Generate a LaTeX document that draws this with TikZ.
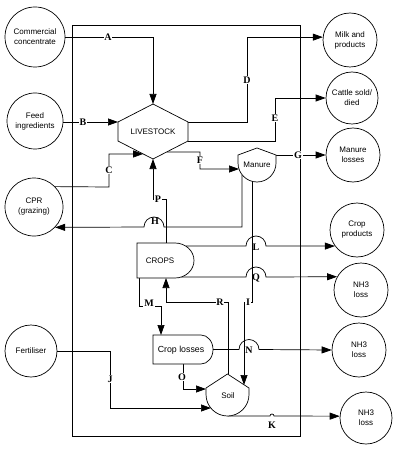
\documentclass[tikz,border=0pt]{standalone}
\usepackage{fontspec}
\setmainfont{Liberation Serif}
\setsansfont{Liberation Sans}
\usetikzlibrary{arrows.meta,calc}
\begin{document}
\begin{tikzpicture}[x=1pt,y=1pt,line width=0.7pt,
  circ/.style={draw, circle, inner sep=0pt, minimum size=#1, align=center, font=\sffamily\fontsize{8}{10}\selectfont},
  txt/.style={align=center, inner sep=0pt, font=\sffamily\fontsize{8}{10}\selectfont},
  lbl/.style={fill=white, inner sep=0.8pt, font=\bfseries\fontsize{10}{10}\selectfont},
  lbln/.style={inner sep=0.8pt, font=\bfseries\fontsize{10}{10}\selectfont},
  arr/.style={-{Triangle[length=10pt,width=7pt]}},
  shp/.style={draw, fill=white}
]
\useasboundingbox (0,0) rectangle (400,-449);

% system boundary
\draw (72,-25) rectangle (300,-436);

% outside circles
\node[circ=60pt] (cc) at (35,-37) {Commercial\\concentrate};
\node[circ=56pt] (feed) at (35,-121) {Feed\\ingredients};
\node[circ=58pt] (cpr) at (34,-207) {CPR\\(grazing)};
\node[circ=52pt] (fert) at (31,-351) {Fertiliser};
\node[circ=54pt] (milk) at (350,-40) {Milk and\\products};
\node[circ=52pt] (cattle) at (352,-98) {Cattle sold/\\died};
\node[circ=54pt] (mloss) at (353,-155) {Manure\\losses};
\node[circ=54pt] (cprod) at (357,-230) {Crop\\products};
\node[circ=54pt] (nh3a) at (361,-290) {NH3\\loss};
\node[circ=54pt] (nh3b) at (359,-350) {NH3\\loss};
\node[circ=52pt] (nh3c) at (366,-418) {NH3\\loss};

% livestock hexagon corners
\coordinate (hT) at (153,-104);
\coordinate (hUR) at (188,-122);
\coordinate (hLR) at (188,-141);
\coordinate (hB) at (153,-159);
\coordinate (hLL) at (118,-141);
\coordinate (hUL) at (118,-122);
\coordinate (hC) at ($(hLL)!0.72!(hB)$);
\coordinate (hF) at ($(hLR)!0.61!(hB)$);

% bend points
\coordinate (cC1) at (109,-187);
\coordinate (mW) at (239,-169);
\coordinate (mR) at (276,-155);

% connectors
\draw[arr] (cc.east) -| (hT);
\draw[arr] (feed.east |- hUL) -- (hUL);
\draw[arr] (cpr.44) -- (cC1) |- (hC);
\draw[arr] (hUR) -- (247,-122) |- (milk.174);
\draw[arr] (hLR) -- (275,-141) |- (cattle.west);
\draw[arr] (hF) -- (200,-152) -- (200,-169) -- (mW);
\draw[arr] (mR) -- (mloss.west);
\draw[arr] (242,-175) -- (242,-227) -- (164,-227) arc(0:180:10) -- (cpr.-44);
\draw[arr] (166,-243) -- (166,-199) -- (153,-199) -- (hB);
\draw[arr] (252,-181) -- (252,-302) -- (244,-302) -- (244,-385);
\draw[arr] (228,-374) -- (228,-302) -- (166,-302) -- (166,-278);
\draw[arr] (139,-278) -- (139,-306) -- (161,-306) -- (161,-335);
\draw[arr] (183,-364) -- (183,-389) -- (206,-389);
\draw[arr] (fert.east) -- (110,-351) -- (110,-408) -- (211,-408);
\draw[arr] (227.5,-416) -- (270,-416) arc(180:0:2) -- (nh3c.176);
\draw[arr] (186,-246) -- (246,-246) arc(180:0:10) -- (cprod.216);
\draw[arr] (181,-277) -- (246,-277) arc(180:0:10) -- (nh3a.151);
\draw[arr] (213,-349.5) -- (239,-349.5) arc(180:0:10) -- (nh3b.west);

% shapes
\draw[shp] (hT) -- (hUR) -- (hLR) -- (hB) -- (hLL) -- (hUL) -- cycle;
\node[txt] (live) at (153,-132) {LIVESTOCK};

\draw[shp] (238,-155) -- (257,-148) -- (276,-155) -- (276,-163) arc(0:-180:19) -- cycle;
\node[txt] (manure) at (257,-165) {Manure};

\draw[shp] (137,-243) -- (175,-243) arc(90:-90:19 and 17.5) -- (137,-278) -- cycle;
\node[txt] (crops) at (160,-261) {CROPS};

\draw[shp] (153,-335) -- (201,-335) arc(90:-90:12 and 14.5) -- (153,-364) -- cycle;
\node[txt, font=\sffamily\fontsize{8.8}{10}\selectfont] (closs) at (181,-350) {Crop losses};

\draw[shp] (206,-388) -- (227.5,-374) -- (249,-388) -- (249,-394.5) arc(0:-180:21.5) -- cycle;
\node[txt] (soil) at (228,-396) {Soil};

% labels
\node[lbl] (lA) at (108,-37) {A};
\node[lbl] (lB) at (83,-122) {B};
\node[lbl] (lC) at (109,-170) {C};
\node[lbl] (lD) at (247,-80) {D};
\node[lbl] (lE) at (275,-118) {E};
\node[lbl] (lF) at (200,-160) {F};
\node[lbl] (lG) at (298,-155) {G};
\node[lbln] (lH) at (155,-221) {H};
\node[lbl] (lP) at (158,-199) {P};
\node[lbln] (lL) at (256,-247) {L};
\node[lbln] (lQ) at (256,-278) {Q};
\node[lbl] (lI) at (248,-302) {I};
\node[lbl] (lR) at (220,-302) {R};
\node[lbl] (lM) at (149,-303) {M};
\node[lbln] (lN) at (249,-350) {N};
\node[lbl] (lO) at (182,-377) {O};
\node[lbl] (lJ) at (110,-379) {J};
\node[lbln] (lK) at (272,-425) {K};
\end{tikzpicture}
\end{document}
